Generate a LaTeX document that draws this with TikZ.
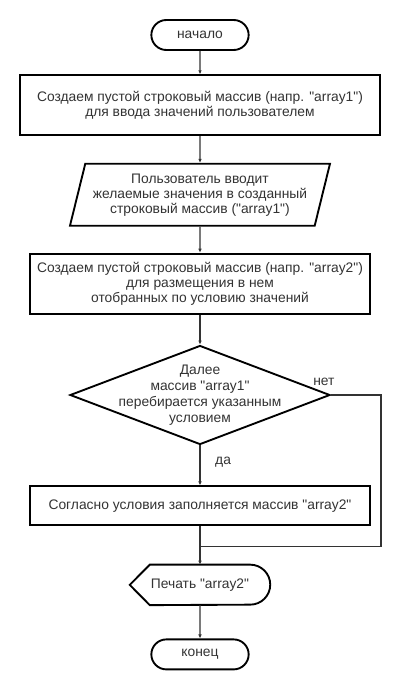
\documentclass[tikz,border=0pt]{standalone}
\usepackage{fontspec}
\setmainfont{Liberation Sans}[Ligatures=TeXOff]
\usetikzlibrary{arrows.meta,calc,positioning,shapes.geometric,shapes.misc}
\definecolor{ink}{HTML}{333333}
\definecolor{edge}{HTML}{000000}
\definecolor{wire}{HTML}{333333}
\tikzset{
  basebox/.style={draw=edge,fill=white,line width=1.6pt,align=center,text=ink,font=\fontsize{11.8}{12.8}\selectfont,inner sep=2pt},
  termbox/.style={basebox,rounded rectangle,minimum width=3.06cm,minimum height=0.9cm},
  actbox/.style={basebox,rectangle,minimum width=10.2cm},
  iobox/.style={basebox,trapezium,trapezium left angle=72,trapezium right angle=108,trapezium stretches body,minimum width=7.8cm,minimum height=1.86cm},
  decbox/.style={basebox,diamond,inner sep=0pt,minimum width=7.8cm,minimum height=2.97cm},
  arrow/.style={-{Latex[length=1.2mm,width=1.1mm]},line width=1.1pt,draw=wire},
  link/.style={line width=1.1pt,draw=wire},
  tag/.style={text=ink,font=\fontsize{11.8}{13.8}\selectfont,inner sep=0pt}
}
\begin{document}
\begin{tikzpicture}[
    prnbox/.style={minimum width=4.2cm,minimum height=1.2cm,text=ink,font=\fontsize{11.8}{12.8}\selectfont,inner sep=0pt}
  ]
    \useasboundingbox (-6,1.05) rectangle (6,-19.65);
    \node[termbox] (start) {начало};
    \node[actbox,minimum width=10.8cm,minimum height=1.8cm,below=0.7cm of start] (mk1) {Создаем пустой строковый массив (напр. "array1")\\для ввода значений пользователем};
    \node[iobox,below=0.8cm of mk1] (inp) {Пользователь вводит\\желаемые значения в созданный\\строковый массив ("array1")};
    \node[actbox,minimum height=1.8cm,below=0.78cm of inp] (mk2) {Создаем пустой строковый массив (напр. "array2")\\для размещения в нем\\отобранных по условию значений};
    \node[decbox,below=0.9cm of mk2,
      label={[tag,align=center]center:Далее\\массив "array1"\\перебирается указанным\\условием}] (dec) {};
    \node[actbox,minimum height=1.17cm,below=1.2cm of dec] (fill) {Согласно условия заполняется массив "array2"};
    \node[prnbox,below=1.15cm of fill] (prn) {Печать "array2"};
    \node[termbox,below=1.0cm of prn] (stop) {конец};
    % display shape
    \draw[draw=edge,line width=1.6pt] (prn.west) -- ([xshift=0.6cm]prn.north west)
      -- ([xshift=-0.6cm]prn.north east) arc[start angle=90,end angle=-90,radius=0.6cm]
      -- ([xshift=0.6cm]prn.south west) -- cycle;
    \coordinate[below=0.6cm of fill] (junc);
    \coordinate (side) at ([xshift=1.5cm]dec.east);
    \foreach \a/\b in {start/mk1,mk1/inp,inp/mk2,mk2/dec,fill/prn,prn/stop}
      \draw[arrow] (\a) -- (\b);
    \draw[arrow] (dec) -- (fill);
    \node[tag,anchor=west] at ([xshift=0.45cm,yshift=-0.5cm]dec.south) {да};
    \draw[link] (dec.east) -- (side) |- (junc);
    \node[tag] at ([xshift=-0.21cm,yshift=0.38cm]dec.east) {нет};
  \end{tikzpicture}
\end{document}
